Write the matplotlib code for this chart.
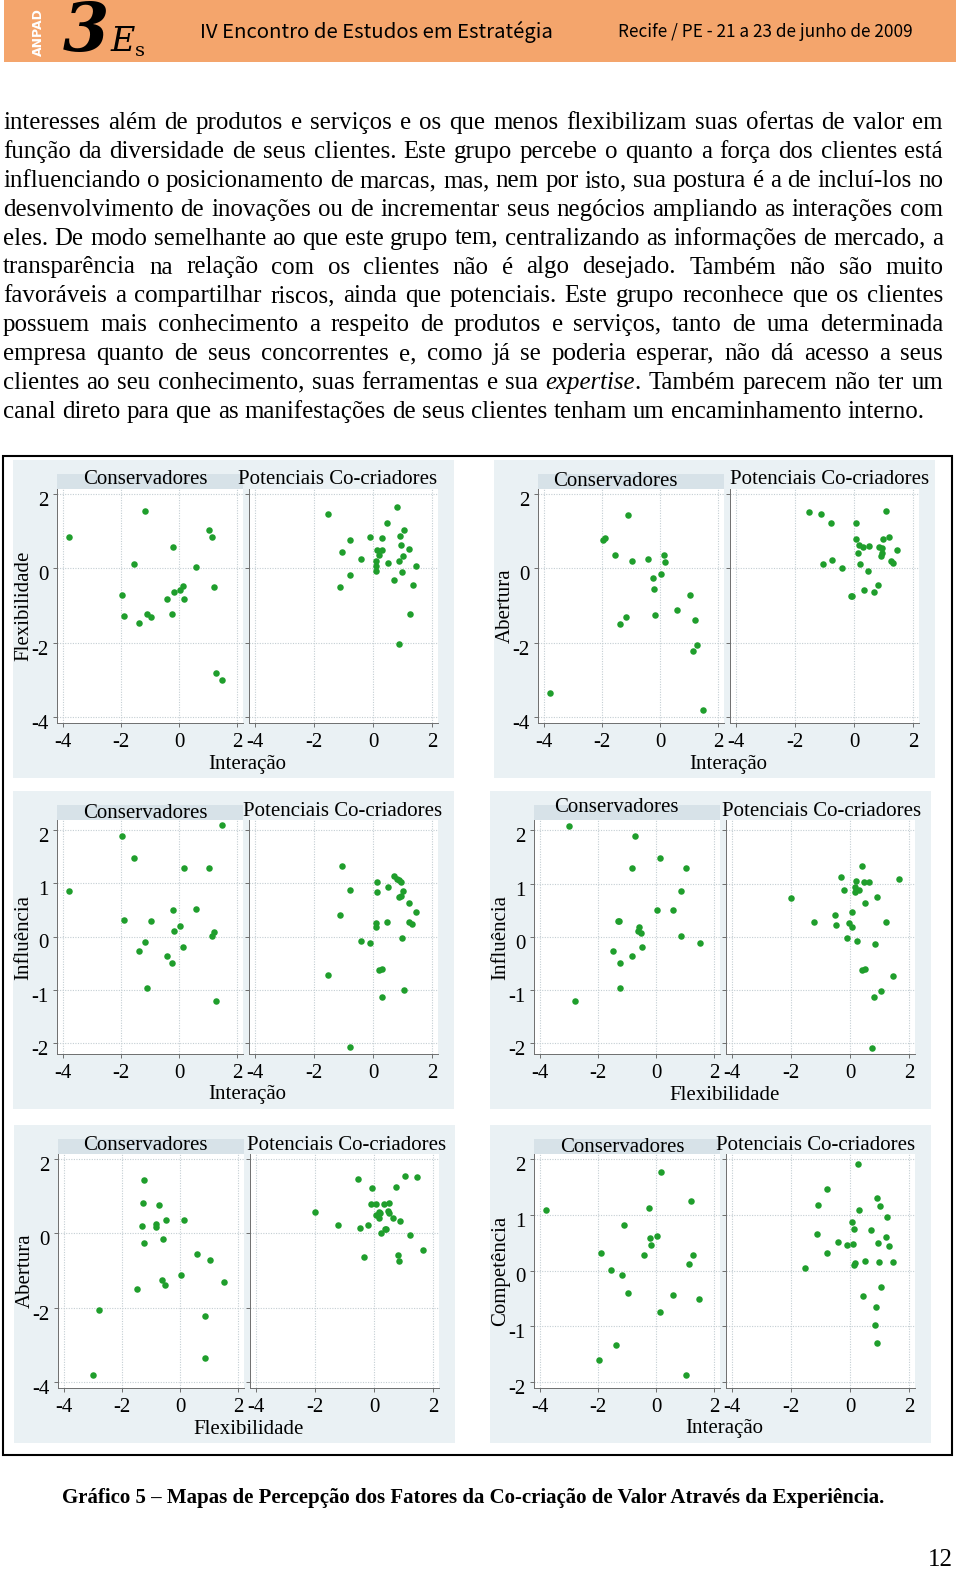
import re
import matplotlib
matplotlib.use('Agg')
import matplotlib.pyplot as plt
from matplotlib.patches import Rectangle
from matplotlib.transforms import ScaledTranslation

SERIF = ['Liberation Serif', 'DejaVu Serif']
plt.rcParams['font.family'] = SERIF

# ---------------- data ----------------
# Conservadores (21 respondents), one value per respondent
cons_interacao = [-3.81, -1.98, -1.89, -1.54, -1.38, -1.18, -1.12, -0.97, -0.40, -0.24, -0.21,
                  -0.17, 0.02, 0.14, 0.16, 0.59, 1.05, 1.13, 1.19, 1.26, 1.49]
cons_flexibilidade = [0.85, -0.72, -1.29, 0.13, -1.48, 1.53, -1.23, -1.32, -0.83, -1.23, 0.58,
                      -0.63, -0.58, -0.47, -0.83, 0.03, 1.03, 0.85, -0.51, -2.81, -3.01]
cons_abertura = [-3.35, 0.76, 0.81, 0.36, -1.50, -1.32, 1.44, 0.19, 0.25, -0.27, -0.56,
                 -1.25, -0.16, 0.36, 0.18, -1.11, -0.72, -2.22, -1.40, -2.06, -3.82]
cons_influencia = [0.86, 1.89, 0.30, 1.48, -0.27, -0.11, -0.97, 0.29, -0.36, -0.49, 0.50,
                   0.11, 0.19, -0.19, 1.29, 0.51, 1.29, 0.01, 0.08, -1.20, 2.09]
cons_competencia = [1.09, -1.60, 0.32, 0.01, -1.34, -0.08, 0.81, -0.40, 0.27, 1.12, 0.59,
                    0.46, 0.61, -0.74, 1.77, -0.44, -1.88, 0.11, 1.24, 0.27, -0.51]

# Potenciais Co-criadores, per map
pot1_interacao = [-1.51, 0.83, 0.46, 1.06, -0.09, 0.32, 0.91, -0.77, 0.95, -1.06, 1.22, 0.15, 0.31, 0.21,
                  1.01, -0.40, 0.89, 0.11, 0.51, 1.46, 0.09, 0.09, 0.99, -0.78, 0.71, -1.11, 1.34, 1.26, 0.88]
pot1_flexibilidade = [1.46, 1.66, 1.21, 1.03, 0.85, 0.81, 0.88, 0.75, 0.64, 0.45, 0.51, 0.48, 0.49, 0.37,
                      0.34, 0.25, 0.21, 0.19, 0.15, 0.07, 0.06, -0.06, -0.11, -0.19, -0.31, -0.51, -0.45, -1.23, -2.04]

pot2_interacao = [-1.52, -1.12, 1.07, -0.78, 0.08, 0.08, 1.20, 0.97, 0.16, 0.29, 0.51, 0.86, 0.94, 1.45,
                  0.14, 0.94, 0.91, -1.06, -0.76, 0.19, 1.26, 1.31, -0.40, 0.46, 0.33, 0.82, 0.68, -0.11, -0.06]
pot2_abertura = [1.51, 1.46, 1.55, 1.23, 1.21, 0.79, 0.83, 0.78, 0.64, 0.58, 0.60, 0.58, 0.55, 0.49,
                 0.40, 0.40, 0.34, 0.13, 0.23, 0.13, 0.21, 0.15, 0.02, -0.06, -0.57, -0.45, -0.64, -0.75, -0.75]

pot3_interacao = [-1.06, -0.78, 0.15, 0.71, 0.82, 0.89, 0.95, 0.15, 0.51, 1.01, 0.89, 0.94, 1.22, 1.45,
                  -1.11, 0.09, 0.46, 1.23, 1.31, 0.09, 0.99, -0.40, -0.09, 0.19, 0.31, -1.51, 1.06, 0.32, -0.78]
pot3_influencia = [1.33, 0.88, 1.03, 1.13, 1.08, 1.05, 1.03, 0.84, 0.93, 0.86, 0.74, 0.75, 0.63, 0.46,
                   0.41, 0.26, 0.28, 0.28, 0.24, 0.18, -0.02, -0.08, -0.12, -0.63, -0.60, -0.73, -1.01, -1.14, -2.08]

pot4_flexibilidade = [0.42, -0.32, 1.66, 0.22, 0.48, 0.65, -0.21, 0.16, 0.17, 0.31, -2.01, 0.90, 0.51, -0.51,
                      0.08, -1.21, -0.46, -0.05, 0.08, 1.22, -0.09, 0.25, 0.85, 0.40, 0.51, 1.45, 1.05, 0.80, 0.74]
pot4_influencia = [1.33, 1.13, 1.09, 1.04, 1.03, 1.03, 0.88, 0.93, 0.84, 0.87, 0.73, 0.75, 0.63, 0.41,
                   0.46, 0.28, 0.23, 0.26, 0.18, 0.28, -0.03, -0.08, -0.13, -0.63, -0.60, -0.73, -1.01, -1.14, -2.09]

pot5_flexibilidade = [-0.53, 1.05, 1.45, -0.06, 0.74, -0.10, 0.06, 0.33, 0.51, -2.01, 0.16, 0.22, 0.06, 0.48,
                      0.50, 0.17, 0.65, 0.88, -1.22, -0.21, -0.47, 0.37, 0.42, 0.25, 1.22, 1.66, -0.34, 0.80, 0.85]
pot5_abertura = [1.46, 1.54, 1.51, 1.21, 1.24, 0.78, 0.78, 0.78, 0.82, 0.57, 0.58, 0.54, 0.49, 0.61,
                 0.56, 0.41, 0.40, 0.34, 0.22, 0.23, 0.15, 0.13, 0.13, 0.02, -0.05, -0.45, -0.63, -0.57, -0.74]

pot6_interacao = [0.27, -0.77, 0.90, -1.08, 1.01, 0.32, 1.24, 0.07, 0.13, 0.70, -1.13, 1.21, -0.41, -0.10,
                  0.09, 0.94, 1.31, -0.79, 0.50, 0.99, 1.45, 0.18, 0.13, -1.53, 1.04, 0.44, 0.87, 0.84, 0.90]
pot6_competencia = [1.91, 1.46, 1.30, 1.18, 1.16, 1.09, 0.96, 0.87, 0.75, 0.73, 0.66, 0.60, 0.51, 0.46,
                    0.48, 0.49, 0.44, 0.32, 0.17, 0.15, 0.16, 0.14, 0.10, 0.05, -0.30, -0.46, -0.65, -0.98, -1.30]

group_titles = ['Conservadores', 'Potenciais Co-criadores']
x_ticks = [-4, -2, 0, 2]
y_ticks_wide = [-4, -2, 0, 2]
y_ticks_narrow = [-2, -1, 0, 1, 2]

header_title = 'IV Encontro de Estudos em Estratégia'
header_place = 'Recife / PE - 21 a 23 de junho de 2009'
caption = 'Gráfico 5 – Mapas de Percepção dos Fatores da Co-criação de Valor Através da Experiência.'
page_number = '12'
body_lines = [
    'interesses além de produtos e serviços e os que menos flexibilizam suas ofertas de valor em',
    'função da diversidade de seus clientes. Este grupo percebe o quanto a força dos clientes está',
    'influenciando o posicionamento de marcas, mas, nem por isto, sua postura é a de incluí-los no',
    'desenvolvimento de inovações ou de incrementar seus negócios ampliando as interações com',
    'eles. De modo semelhante ao que este grupo tem, centralizando as informações de mercado, a',
    'transparência na relação com os clientes não é algo desejado. Também não são muito',
    'favoráveis a compartilhar riscos, ainda que potenciais. Este grupo reconhece que os clientes',
    'possuem mais conhecimento a respeito de produtos e serviços, tanto de uma determinada',
    'empresa quanto de seus concorrentes e, como já se poderia esperar, não dá acesso a seus',
    'clientes ao seu conhecimento, suas ferramentas e sua *expertise*. Também parecem não ter um',
    'canal direto para que as manifestações de seus clientes tenham um encaminhamento interno.',
]

# ---------------- figure ----------------
W, H = 960, 1588
fig = plt.figure(figsize=(W / 100, H / 100), dpi=100)
bg = fig.add_axes([0, 0, 1, 1])
bg.set_xlim(0, W)
bg.set_ylim(H, 0)
bg.axis('off')
renderer = fig.canvas.get_renderer()


def fax(x0, y0, x1, y1):
    return [x0 / W, 1 - y1 / H, (x1 - x0) / W, (y1 - y0) / H]


def twidth(s, **kw):
    t = bg.text(0, 0, s, **kw)
    w = t.get_window_extent(renderer).width
    t.remove()
    return w


def fit_size(s, target, **kw):
    return 10.0 * target / twidth(s, fontsize=10, **kw)


# ---------------- header ----------------
ORANGE = '#F4A56C'
HEAD_KW = dict(family=['Noto Sans CJK JP', 'DejaVu Sans'])
bg.add_patch(Rectangle((4, 0), 952, 62, facecolor=ORANGE, edgecolor='none'))
fs = fit_size(header_title, 355, **HEAD_KW)
bg.text(200, 32, header_title, fontsize=fs, ha='left', va='center', color='black', **HEAD_KW)
fs = fit_size(header_place, 295, **HEAD_KW)
bg.text(618, 32, header_place, fontsize=fs, ha='left', va='center', color='black', **HEAD_KW)
bg.text(38, 32, 'ANPAD', rotation=90, fontsize=9, family=['DejaVu Sans'], color='white',
        ha='center', va='center', fontweight='bold')
bg.text(86, 33, '3', fontsize=48, family=['DejaVu Serif'], fontweight='bold', fontstyle='italic',
        ha='center', va='center', color='black')
bg.text(123, 42, 'E', fontsize=24, family=['DejaVu Serif'], fontstyle='italic',
        ha='center', va='center', color='black')
bg.text(140, 51, 's', fontsize=14, family=['DejaVu Serif'], ha='center', va='center', color='black')

# ---------------- body text (justified) ----------------
LEFT, RIGHT_EDGE = 3, 943
fs_body = fit_size(body_lines[-1].replace('*', ''), 922, family=SERIF)


def segments(word):
    parts = re.split(r'(\*[^*]+\*)', word)
    return [(p.strip('*'), p.startswith('*')) for p in parts if p]


space_w = twidth('a a', fontsize=fs_body) - twidth('aa', fontsize=fs_body)
for i, line in enumerate(body_lines):
    y = 129.3 + i * 28.84
    words = line.split(' ')
    segw = []
    for wd in words:
        segs = segments(wd)
        ws = [twidth(t, fontsize=fs_body, fontstyle='italic' if it else 'normal') for t, it in segs]
        segw.append((segs, ws))
    total = sum(sum(ws) for _, ws in segw)
    if i < len(body_lines) - 1:
        gap = (RIGHT_EDGE - LEFT - total) / (len(words) - 1)
    else:
        gap = space_w
    x = LEFT
    for segs, ws in segw:
        for (t, it), w in zip(segs, ws):
            bg.text(x, y, t, fontsize=fs_body, fontstyle='italic' if it else 'normal',
                    ha='left', va='baseline', color='black')
            x += w
        x += gap

# ---------------- maps ----------------
BG = '#EAF1F4'
STRIP = '#D7E2E8'
GREEN = '#1F9E2C'
bg.add_patch(Rectangle((3, 456), 949, 999, facecolor='none', edgecolor='black', linewidth=1.5))

PW, PH = 441, 318
LX, RX = (44, 230), (236, 425)
PY = (29, 263)
PAD_X, PAD_T, PAD_B = 6, 5, 6
TICK_FS = 15

panels = [
    dict(o=(13, 460), xl='Interação', yl='Flexibilidade', c=(cons_interacao, cons_flexibilidade),
         p=(pot1_interacao, pot1_flexibilidade), yr=(-4, 2), yt=y_ticks_wide, tc=(132, 19), tp=(325, 19)),
    dict(o=(494, 460), xl='Interação', yl='Abertura', c=(cons_interacao, cons_abertura),
         p=(pot2_interacao, pot2_abertura), yr=(-4, 2), yt=y_ticks_wide, tc=(121, 22), tp=(336, 20)),
    dict(o=(13, 791), xl='Interação', yl='Influência', c=(cons_interacao, cons_influencia),
         p=(pot3_interacao, pot3_influencia), yr=(-2.09, 2.09), yt=y_ticks_narrow, tc=(132, 22), tp=(330, 20)),
    dict(o=(490, 791), xl='Flexibilidade', yl='Influência', c=(cons_flexibilidade, cons_influencia),
         p=(pot4_flexibilidade, pot4_influencia), yr=(-2.09, 2.1), yt=y_ticks_narrow, tc=(126, 17), tp=(332, 20)),
    dict(o=(14, 1125), xl='Flexibilidade', yl='Abertura', c=(cons_flexibilidade, cons_abertura),
         p=(pot5_flexibilidade, pot5_abertura), yr=(-4, 2), yt=y_ticks_wide, tc=(131, 20), tp=(333, 20)),
    dict(o=(490, 1125), xl='Interação', yl='Competência', c=(cons_interacao, cons_competencia),
         p=(pot6_interacao, pot6_competencia), yr=(-2, 2), yt=y_ticks_narrow, tc=(132, 22), tp=(326, 20)),
]

yoff = ScaledTranslation(0, -5 / 100, fig.dpi_scale_trans)

for pn in panels:
    ox, oy = pn['o']
    bg.add_patch(Rectangle((ox, oy), PW, PH, facecolor=BG, edgecolor='none'))
    bg.add_patch(Rectangle((ox + LX[0], oy + 14), LX[1] - LX[0], 15, facecolor=STRIP, edgecolor='none'))
    bg.text(ox + pn['tc'][0], oy + pn['tc'][1], group_titles[0], fontsize=TICK_FS, ha='center', va='center')
    bg.text(ox + pn['tp'][0], oy + pn['tp'][1], group_titles[1], fontsize=TICK_FS, ha='center', va='center')
    bg.text(ox + 234.5, oy + 304, pn['xl'], fontsize=TICK_FS, ha='center', va='center')
    bg.text(ox + 11, oy + 146, pn['yl'], fontsize=TICK_FS, ha='center', va='center', rotation=90)
    for k, (xr, data) in enumerate(((LX, pn['c']), (RX, pn['p']))):
        x0, x1 = ox + xr[0], ox + xr[1]
        y0, y1 = oy + PY[0], oy + PY[1]
        ax = fig.add_axes(fax(x0, y0, x1, y1))
        ax.set_facecolor('white')
        ux = (x1 - x0 - 2 * PAD_X) / 6.0
        ax.set_xlim(-4 - PAD_X / ux, 2 + PAD_X / ux)
        lo, hi = pn['yr']
        uy = (y1 - y0 - PAD_T - PAD_B) / (hi - lo)
        ax.set_ylim(lo - PAD_B / uy, hi + PAD_T / uy)
        ax.set_xticks(x_ticks)
        ax.set_xticklabels([str(v) for v in x_ticks])
        ax.set_yticks(pn['yt'])
        ax.set_yticklabels([str(v) for v in pn['yt']])
        ax.grid(True, color='#C4CED3', linestyle=(0, (1, 1.3)), linewidth=0.8)
        ax.set_axisbelow(True)
        for s in ('top', 'right'):
            ax.spines[s].set_visible(False)
        for s in ('left', 'bottom'):
            ax.spines[s].set_color('#6E6E6E')
            ax.spines[s].set_linewidth(0.7)
        ax.tick_params(direction='out', length=3, width=0.7, color='#6E6E6E',
                       labelsize=TICK_FS, pad=3)
        ax.tick_params(axis='x', pad=4)
        if k == 1:
            ax.tick_params(axis='y', labelleft=False)
        else:
            for lab in ax.get_yticklabels():
                lab.set_transform(lab.get_transform() + yoff)
        ax.scatter(data[0], data[1], s=22, color=GREEN, linewidths=0, zorder=3)

# ---------------- caption & page number ----------------
fs = fit_size(caption, 823, fontweight='bold')
bg.text(473, 1498, caption, fontsize=fs, fontweight='bold', ha='center', va='center')
bg.text(953, 1566, page_number, fontsize=fs_body, ha='right', va='baseline')

fig.savefig('out.png', dpi=100)
